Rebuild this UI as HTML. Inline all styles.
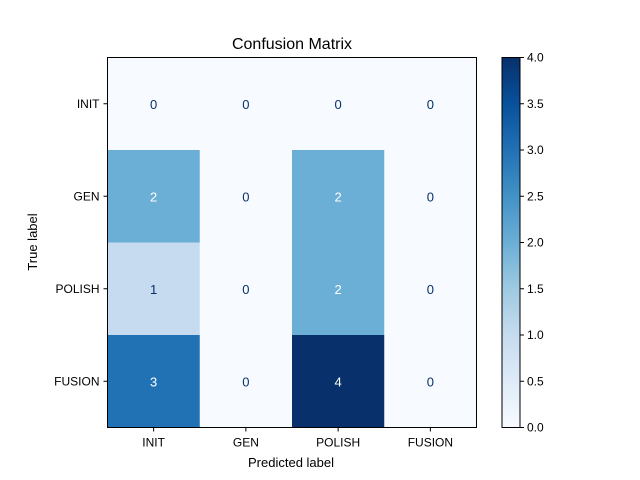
<!DOCTYPE html>
<html><head><meta charset="utf-8"><style>
body{margin:0;background:#fff}
svg{display:block;font-family:"Liberation Sans","DejaVu Sans",sans-serif}
</style></head><body>
<svg id="chart" width="640" height="480">
<defs><linearGradient id="blues" x1="0" y1="1" x2="0" y2="0">
<stop offset="0" stop-color="#f7fbff"/><stop offset="0.125" stop-color="#deebf7"/>
<stop offset="0.25" stop-color="#c6dbef"/><stop offset="0.375" stop-color="#9ecae1"/>
<stop offset="0.5" stop-color="#6baed6"/><stop offset="0.625" stop-color="#4292c6"/>
<stop offset="0.75" stop-color="#2171b5"/><stop offset="0.875" stop-color="#08519c"/>
<stop offset="1" stop-color="#08306b"/></linearGradient></defs>
<text x="292" y="49" font-size="16" text-anchor="middle">Confusion Matrix</text>
<g id="cells"></g>
<rect x="107.5" y="57.5" width="369" height="370" fill="none" stroke="#000" stroke-width="1"/>
<g id="axes"></g>
<text x="291" y="467" font-size="13" text-anchor="middle">Predicted label</text>
<text x="37" y="242" font-size="13" text-anchor="middle" transform="rotate(-90 37 242)">True label</text>
<rect x="502" y="57.5" width="18" height="370" fill="url(#blues)" stroke="#000" stroke-width="1"/>
<g id="cbar"></g>
</svg>
<script>
const labels=["INIT","GEN","POLISH","FUSION"];
const matrix=[[0,0,0,0],[2,0,2,0],[1,0,2,0],[3,0,4,0]];
const cbTicks=[0,0.5,1,1.5,2,2.5,3,3.5,4];
const vmin=0,vmax=4;
const stops=[[0,[247,251,255]],[0.125,[222,235,247]],[0.25,[198,219,239]],[0.375,[158,202,225]],[0.5,[107,174,214]],[0.625,[66,146,198]],[0.75,[33,113,181]],[0.875,[8,81,156]],[1,[8,48,107]]];
function color(v){const t=(v-vmin)/(vmax-vmin);for(let i=1;i<stops.length;i++){if(t<=stops[i][0]){const a=stops[i-1],b=stops[i],f=(t-a[0])/(b[0]-a[0]);const c=a[1].map((x,k)=>Math.round(x+(b[1][k]-x)*f));return `rgb(${c})`;}}return "rgb(8,48,107)";}
const X0=107.5,Y0=57.5,W=369,H=370,n=labels.length,cw=W/n,ch=H/n;
const xs=j=>X0+j*cw, ys=i=>Y0+i*ch;
const NS="http://www.w3.org/2000/svg";
function mk(t,a,p){const e=document.createElementNS(NS,t);for(const k in a)e.setAttribute(k,a[k]);p.appendChild(e);return e;}
const cells=document.getElementById('cells'),axes=document.getElementById('axes'),cbar=document.getElementById('cbar');
matrix.forEach((row,i)=>row.forEach((v,j)=>{
 const r=mk('rect',{x:xs(j),y:ys(i),width:cw+0.5,height:ch+0.5,fill:color(v)},cells);
 
 
 const t=mk('text',{x:xs(j)+cw/2,y:ys(i)+ch/2+5,'font-size':13,'text-anchor':'middle',fill:v>=(vmax+vmin)/2?'#fff':'#08306b'},cells);
 t.textContent=v;
 
 
}));
labels.forEach((l,j)=>{
 const x=xs(j)+cw/2;
 mk('line',{x1:x,x2:x,y1:Y0+H,y2:Y0+H+4,stroke:'#000'},axes);
 const t=mk('text',{x:x,y:Y0+H+19,'font-size':12,'text-anchor':'middle'},axes);t.textContent=l;
 
 
 const y=ys(j)+ch/2;
 mk('line',{x1:X0-4,x2:X0,y1:y,y2:y,stroke:'#000'},axes);
 const u=mk('text',{x:X0-8,y:y+4,'font-size':12,'text-anchor':'end'},axes);u.textContent=l;
 
 
});
cbTicks.forEach(v=>{
 const y=Y0+H-(v-vmin)/(vmax-vmin)*H;
 mk('line',{x1:520,x2:524,y1:y,y2:y,stroke:'#000'},cbar);
 const t=mk('text',{x:527,y:y+4,'font-size':12},cbar);t.textContent=v.toFixed(1);
 
 
});
</script>
</body></html>
